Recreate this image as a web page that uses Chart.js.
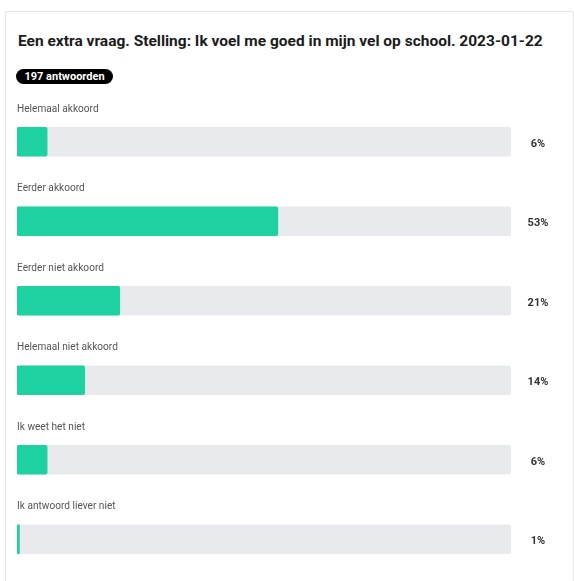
<!DOCTYPE html>
<html>
<head>
<meta charset="utf-8">
<script src="https://cdn.jsdelivr.net/npm/chart.js@4/dist/chart.umd.min.js"></script>
<style>
  html, body { margin: 0; padding: 0; background: #fff; }
  body { width: 574px; height: 581px; position: relative; overflow: hidden; font-family: Roboto, "Liberation Sans", sans-serif; }
  .card { position: absolute; left: 5px; top: 11px; width: 569px; height: 620px; border: 1px solid #e4e4e4; border-radius: 2px; box-sizing: border-box; }
  .title { position: absolute; left: 18px; top: 31px; font-size: 15.5px; font-weight: 700; color: #1c1c1c; line-height: 20px; white-space: nowrap; }
  .badge { position: absolute; left: 16px; top: 69px; width: 97px; height: 15px; border-radius: 8px; background: #000; color: #fff; font-size: 11px; font-weight: 700; line-height: 15px; text-align: center; white-space: nowrap; }
  .wrap { position: absolute; left: 0; top: 0; width: 574px; height: 581px; }
</style>
</head>
<body>
<div class="card"></div>
<div class="title">Een extra vraag. Stelling: Ik voel me goed in mijn vel op school. 2023-01-22</div>
<div class="badge">197 antwoorden</div>
<div class="wrap"><canvas id="c"></canvas></div>
<script>
const categories = ['Helemaal akkoord', 'Eerder akkoord', 'Eerder niet akkoord', 'Helemaal niet akkoord', 'Ik weet het niet', 'Ik antwoord liever niet'];
const values = [6.1, 52.8, 20.8, 13.7, 6.1, 0.5];
const pctLabels = ['6%', '53%', '21%', '14%', '6%', '1%'];
const trackValues = [100, 100, 100, 100, 100, 100];

const rowText = {
  id: 'rowText',
  afterDatasetsDraw(chart) {
    const { ctx, chartArea, scales } = chart;
    const y = scales.y;
    categories.forEach((c, i) => {
      const yc = y.getPixelForValue(i);
      ctx.save();
      ctx.textBaseline = 'middle';
      ctx.translate(chartArea.left, yc - 33);
      ctx.scale(0.88, 1);
      ctx.font = '400 11.5px Roboto, "Liberation Sans", sans-serif';
      ctx.fillStyle = '#555';
      ctx.textAlign = 'left';
      ctx.fillText(c, 0, 0);
      ctx.restore();
      ctx.save();
      ctx.textBaseline = 'middle';
      ctx.font = '700 11px Roboto, "Liberation Sans", sans-serif';
      ctx.fillStyle = '#333';
      ctx.textAlign = 'center';
      ctx.fillText(pctLabels[i], chartArea.right + 27, yc + 2);
      ctx.restore();
    });
  }
};

new Chart(document.getElementById('c'), {
  type: 'bar',
  data: {
    labels: categories,
    datasets: [
      { data: values, backgroundColor: '#1ed1a0', borderRadius: 2, borderSkipped: false, barThickness: 29, grouped: false, order: 0 },
      { data: trackValues, backgroundColor: '#e8eaed', borderRadius: 3, borderSkipped: false, barThickness: 29, grouped: false, order: 1 }
    ]
  },
  options: {
    indexAxis: 'y',
    responsive: true,
    maintainAspectRatio: false,
    animation: false,
    devicePixelRatio: 1,
    layout: { padding: { left: 17, right: 63, top: 102, bottom: 2 } },
    scales: {
      x: { display: false, min: 0, max: 100 },
      y: { display: false }
    },
    plugins: { legend: { display: false }, tooltip: { enabled: false } }
  },
  plugins: [rowText]
});
</script>
</body>
</html>
